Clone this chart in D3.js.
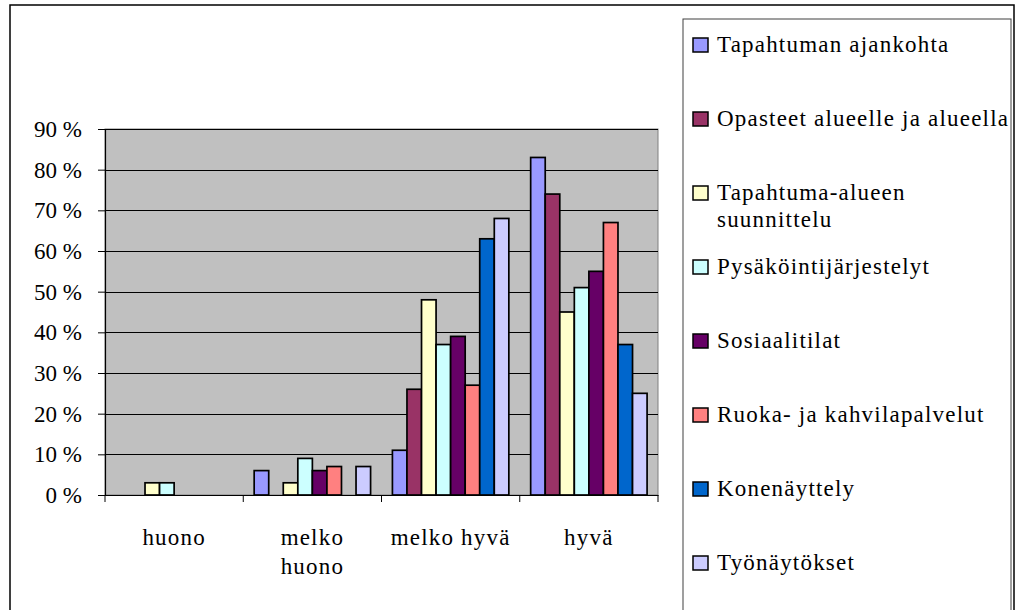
<!DOCTYPE html>
<html>
<head>
<meta charset="utf-8">
<script src="https://cdn.jsdelivr.net/npm/d3@7"></script>
<style>
  html, body { margin: 0; padding: 0; background: #fff; }
  svg { display: block; }
  text { font-family: "Liberation Serif", "Times New Roman", serif; fill: #000; }
</style>
</head>
<body>
<svg id="chart" width="1016" height="610"></svg>
<script>
const categories = ["huono", "melko huono", "melko hyvä", "hyvä"];
const categoryLines = [["huono"], ["melko", "huono"], ["melko hyvä"], ["hyvä"]];
const seriesNames = [
  "Tapahtuman ajankohta",
  "Opasteet alueelle ja alueella",
  "Tapahtuma-alueen suunnittelu",
  "Pysäköintijärjestelyt",
  "Sosiaalitilat",
  "Ruoka- ja kahvilapalvelut",
  "Konenäyttely",
  "Työnäytökset"
];
const legendLines = [
  ["Tapahtuman ajankohta"],
  ["Opasteet alueelle ja alueella"],
  ["Tapahtuma-alueen", "suunnittelu"],
  ["Pysäköintijärjestelyt"],
  ["Sosiaalitilat"],
  ["Ruoka- ja kahvilapalvelut"],
  ["Konenäyttely"],
  ["Työnäytökset"]
];
const colors = ["#9999FF", "#993366", "#FFFFCC", "#CCFFFF", "#660066", "#FF8080", "#0066CC", "#CCCCFF"];
// values per series, in category order (huono, melko huono, melko hyvä, hyvä), percent
const tapahtumanAjankohta = [0, 6, 11, 83];
const opasteet = [0, 0, 26, 74];
const alueenSuunnittelu = [3, 3, 48, 45];
const pysakointi = [3, 9, 37, 51];
const sosiaalitilat = [0, 6, 39, 55];
const ruokaKahvila = [0, 7, 27, 67];
const konenayttely = [0, 0, 63, 37];
const tyonaytokset = [0, 7, 68, 25];
const seriesValues = [tapahtumanAjankohta, opasteet, alueenSuunnittelu, pysakointi, sosiaalitilat, ruokaKahvila, konenayttely, tyonaytokset];
const yTicks = [0, 10, 20, 30, 40, 50, 60, 70, 80, 90];

const svg = d3.select("#chart");
const FS = 23, LS = "1.2px";

// outer frame
svg.append("rect").attr("x", 10).attr("y", 5).attr("width", 1004).attr("height", 620)
  .attr("fill", "#fff").attr("stroke", "#000").attr("stroke-width", 1.5);

const plot = {left: 105, right: 658, top: 129, bottom: 495};
const x0 = d3.scaleBand().domain(categories).range([plot.left, plot.right]).padding(0);
const x1 = d3.scaleBand().domain(d3.range(seriesNames.length)).range([0, x0.bandwidth()])
  .paddingInner(0).paddingOuter(0.75);
const y = d3.scaleLinear().domain([0, 90]).range([plot.bottom, plot.top]);

// plot background
svg.append("rect").attr("x", plot.left).attr("y", plot.top)
  .attr("width", plot.right - plot.left).attr("height", plot.bottom - plot.top)
  .attr("fill", "#C0C0C0").attr("stroke", "#808080").attr("stroke-width", 1);

// gridlines
svg.append("g").selectAll("line").data(yTicks.filter(d => d > 0)).join("line")
  .attr("x1", plot.left).attr("x2", plot.right)
  .attr("y1", d => Math.round(y(d)) + 0.5).attr("y2", d => Math.round(y(d)) + 0.5)
  .attr("stroke", "#000").attr("stroke-width", 1);

// bars
const groups = svg.append("g").selectAll("g").data(categories).join("g")
  .attr("transform", c => `translate(${x0(c)},0)`);
groups.selectAll("rect").data((c, ci) => seriesValues.map((vals, si) => ({si, v: vals[ci]})).filter(d => d.v > 0))
  .join("rect")
  .attr("x", d => x1(d.si)).attr("width", x1.bandwidth())
  .attr("y", d => y(d.v)).attr("height", d => y(0) - y(d.v))
  .attr("fill", d => colors[d.si]).attr("stroke", "#000").attr("stroke-width", 1.7);

// y axis
const yAxis = d3.axisLeft(y).tickValues(yTicks).tickSize(7).tickPadding(16).tickFormat(d => d + " %");
const yg = svg.append("g").attr("transform", `translate(${plot.left},0)`).call(yAxis);
yg.select(".domain").attr("stroke", "#000").attr("stroke-width", 1.2);
yg.selectAll(".tick line").attr("stroke", "#000");
yg.selectAll(".tick text").attr("font-size", FS).attr("font-family", "Liberation Serif").attr("fill", "#000");

// x axis
const xAxis = d3.axisBottom(x0).tickSize(0).tickFormat("");
const xg = svg.append("g").attr("transform", `translate(0,${plot.bottom})`).call(xAxis);
xg.select(".domain").attr("stroke", "#000").attr("stroke-width", 1.2);
// category boundary ticks
svg.append("g").selectAll("line").data(categories.map(c => x0(c)).concat([plot.right])).join("line")
  .attr("x1", d => d).attr("x2", d => d).attr("y1", plot.bottom).attr("y2", plot.bottom + 7)
  .attr("stroke", "#000").attr("stroke-width", 1);

// category labels
categories.forEach((c, i) => {
  const t = svg.append("text").attr("x", x0(c) + x0.bandwidth() / 2).attr("y", 545)
    .attr("text-anchor", "middle").attr("font-size", FS).attr("letter-spacing", LS);
  categoryLines[i].forEach((ln, k) => {
    t.append("tspan").attr("x", x0(c) + x0.bandwidth() / 2).attr("dy", k === 0 ? 0 : 29).text(ln);
  });
});

// legend
svg.append("rect").attr("x", 683).attr("y", 19).attr("width", 328).attr("height", 620)
  .attr("fill", "#fff").attr("stroke", "#404040").attr("stroke-width", 1);
const legendY = d3.scaleLinear().domain([0, 7]).range([45, 563]);
const lg = svg.append("g").selectAll("g").data(seriesNames).join("g")
  .attr("transform", (d, i) => `translate(693,${legendY(i)})`);
lg.append("rect").attr("x", 0).attr("y", -7).attr("width", 15).attr("height", 14)
  .attr("fill", (d, i) => colors[i]).attr("stroke", "#000").attr("stroke-width", 1.5);
lg.append("text").attr("x", 24).attr("y", 7).attr("font-size", FS).attr("letter-spacing", LS)
  .each(function(d, i) {
    const t = d3.select(this);
    legendLines[i].forEach((ln, k) => t.append("tspan").attr("x", 24).attr("dy", k === 0 ? 0 : 27).text(ln));
  });
</script>
</body>
</html>
